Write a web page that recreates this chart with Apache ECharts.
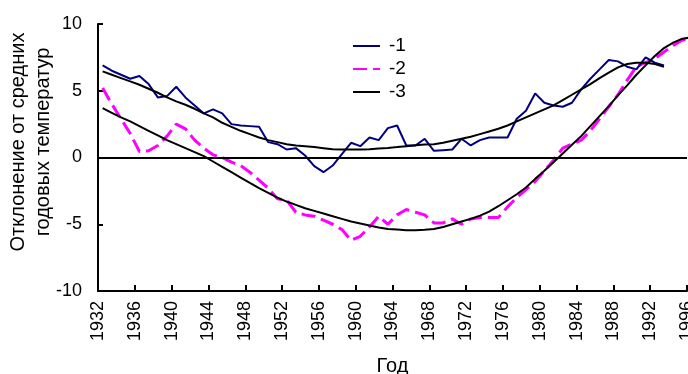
<!DOCTYPE html>
<html>
<head>
<meta charset="utf-8">
<title>Отклонение от средних годовых температур</title>
<script src="https://cdn.jsdelivr.net/npm/echarts@6/dist/echarts.min.js"></script>
<style>
    html, body { margin: 0; padding: 0; background: #fff; }
    #chart { width: 688px; height: 374px; }
</style>
</head>
<body>
<div id="chart"></div>
<script>
// годы наблюдений
var years = [1932, 1933, 1934, 1935, 1936, 1937, 1938, 1939, 1940, 1941,
    1942, 1943, 1944, 1945, 1946, 1947, 1948, 1949, 1950, 1951,
    1952, 1953, 1954, 1955, 1956, 1957, 1958, 1959, 1960, 1961,
    1962, 1963, 1964, 1965, 1966, 1967, 1968, 1969, 1970, 1971,
    1972, 1973, 1974, 1975, 1976, 1977, 1978, 1979, 1980, 1981,
    1982, 1983, 1984, 1985, 1986, 1987, 1988, 1989, 1990, 1991,
    1992, 1993, 1994, 1995, 1996];

// ряд 1 (1932-1993)
var series1 = [6.9, 6.5, 6.2, 5.9, 6.1, 5.5, 4.5, 4.6, 5.3, 4.5,
    3.9, 3.3, 3.6, 3.3, 2.5, 2.4, 2.35, 2.3, 1.15, 1.0,
    0.6, 0.7, 0.15, -0.65, -1.1, -0.6, 0.25, 1.1, 0.85, 1.5,
    1.3, 2.2, 2.4, 0.9, 0.9, 1.4, 0.5, 0.55, 0.6, 1.4,
    0.9, 1.3, 1.5, 1.5, 1.5, 2.9, 3.5, 4.8, 4.1, 3.9,
    3.8, 4.1, 5.1, 5.9, 6.6, 7.3, 7.2, 6.8, 6.6, 7.5,
    7.1, 6.9];

// ряд 2 (1932-1996)
var series2 = [5.2, 4.0, 2.9, 1.8, 0.45, 0.5, 0.9, 1.6, 2.5, 2.15,
    1.3, 0.7, 0.2, 0.0, -0.35, -0.6, -1.1, -1.7, -2.3, -3.1,
    -3.2, -4.1, -4.3, -4.4, -4.7, -5.0, -5.4, -6.2, -5.9, -5.2,
    -4.4, -5.0, -4.3, -3.9, -4.1, -4.3, -4.9, -4.9, -4.6, -5.0,
    -4.6, -4.5, -4.5, -4.5, -3.7, -3.0, -2.4, -1.8, -1.0, -0.2,
    0.7, 1.0, 1.3, 2.0, 2.9, 3.8, 4.7, 5.8, 6.8, 7.1,
    7.4, 7.9, 8.4, 8.8, 8.9];

// тренд ряда 1 (1932-1993)
var trend1 = [6.45, 6.2, 5.95, 5.7, 5.45, 5.15, 4.85, 4.5, 4.2, 3.95,
    3.65, 3.3, 3.0, 2.6, 2.3, 2.0, 1.75, 1.5, 1.3, 1.15,
    1.0, 0.9, 0.85, 0.78, 0.7, 0.62, 0.6, 0.6, 0.6, 0.62,
    0.67, 0.72, 0.78, 0.85, 0.92, 0.97, 1.0, 1.1, 1.25, 1.4,
    1.55, 1.75, 1.95, 2.15, 2.4, 2.7, 3.0, 3.3, 3.6, 3.9,
    4.3, 4.7, 5.1, 5.5, 5.95, 6.35, 6.75, 7.0, 7.1, 7.1,
    7.0, 6.8];

// тренд ряда 2 (1932-1996)
var trend2 = [3.7, 3.35, 3.0, 2.7, 2.35, 2.0, 1.65, 1.3, 1.0, 0.7,
    0.4, 0.1, -0.3, -0.7, -1.1, -1.5, -1.9, -2.3, -2.65, -3.0,
    -3.3, -3.55, -3.8, -4.0, -4.2, -4.4, -4.6, -4.8, -4.95, -5.1,
    -5.25, -5.35, -5.4, -5.45, -5.45, -5.42, -5.35, -5.2, -5.0, -4.8,
    -4.6, -4.35, -4.05, -3.65, -3.2, -2.75, -2.25, -1.6, -1.0, -0.35,
    0.3, 0.95, 1.6, 2.35, 3.1, 3.85, 4.65, 5.4, 6.2, 6.9,
    7.6, 8.2, 8.6, 8.9, 9.0];

var yTicks = [-10, -5, 0, 5, 10];
var legendNames = ['-1', '-2', '-3'];
var yTitle = 'Отклонение от средних\nгодовых температур';

var FONT = 'Liberation Sans, Arial, sans-serif';

/**
 * Собирает пары [год, значение] для линейного ряда
 * @param values значения ряда
 */
function toPairs(values) {
    var pairs = [];
    for (var i = 0; i < values.length; i++) {
        pairs.push([years[i], values[i]]);
    }
    return pairs;
}

/**
 * Описание одной линии графика
 */
function lineSeries(name, values, color, width, type, z) {
    return {
        name: name,
        type: 'line',
        xAxisIndex: 1,
        data: toPairs(values),
        showSymbol: false,
        symbol: 'none',
        smooth: false,
        z: z,
        lineStyle: { color: color, width: width, type: type },
        itemStyle: { color: color },
        emphasis: { disabled: true },
        animation: false
    };
}

/**
 * Рисует график отклонений температур
 */
function loadChart() {
    var myChart = echarts.init(document.getElementById('chart'), null, { renderer: 'canvas' });
    var s1 = lineSeries(legendNames[0], series1, '#000080', 2, 'solid', 3);
    s1.markLine = {
        silent: true,
        symbol: ['none', 'none'],
        label: { show: false },
        lineStyle: { color: '#000', width: 2, type: 'solid' },
        data: [{ yAxis: 0 }],
        animation: false
    };
    var option = {
        backgroundColor: '#fff',
        animation: false,
        textStyle: { fontFamily: FONT, color: '#000' },
        grid: { left: 98, right: 1, top: 24, bottom: 83, containLabel: false, outerBoundsMode: 'none' },
        // подпись оси Y (две строки, повернута)
        graphic: [{
            type: 'text',
            x: 31,
            y: 142,
            rotation: Math.PI / 2,
            silent: true,
            style: {
                text: yTitle,
                fontFamily: FONT,
                fontSize: 20,
                lineHeight: 25,
                fill: '#000',
                align: 'center',
                verticalAlign: 'middle'
            }
        }],
        legend: {
            data: legendNames,
            orient: 'vertical',
            left: 352,
            top: 36,
            padding: 0,
            itemWidth: 27,
            itemHeight: 14,
            itemGap: 3,
            itemStyle: { opacity: 0 },
            textStyle: { fontFamily: FONT, fontSize: 19, color: '#000', lineHeight: 20, padding: [0, 0, 0, 4] }
        },
        xAxis: [{
            type: 'value',
            min: 1932,
            max: 1996,
            interval: 4,
            name: 'Год',
            nameLocation: 'middle',
            nameGap: 65,
            nameTextStyle: { fontFamily: FONT, fontSize: 20, color: '#000' },
            axisLine: { onZero: false, lineStyle: { color: '#000', width: 2 } },
            axisTick: { inside: true, length: 6, lineStyle: { color: '#000', width: 2 } },
            axisLabel: {
                rotate: 90,
                margin: 10,
                fontFamily: FONT,
                fontSize: 18,
                color: '#000',
                formatter: function (v) { return String(v); }
            },
            splitLine: { show: false }
        }, {
            // годовые значения ставятся в середину года
            type: 'value',
            min: 1931.5,
            max: 1995.5,
            show: false
        }],
        yAxis: {
            type: 'value',
            min: yTicks[0],
            max: yTicks[yTicks.length - 1],
            interval: 5,
            axisLine: { show: true, lineStyle: { color: '#000', width: 2 } },
            axisTick: { show: true, inside: true, length: 5, lineStyle: { color: '#000', width: 2 } },
            axisLabel: { margin: 16, fontFamily: FONT, fontSize: 18, color: '#000' },
            splitLine: { show: false }
        },
        series: [
            s1,
            lineSeries(legendNames[1], series2, '#FF00FF', 3, [14, 6], 2),
            lineSeries(legendNames[2], trend1, '#000000', 2, 'solid', 4),
            lineSeries(legendNames[2], trend2, '#000000', 2, 'solid', 4)
        ]
    };
    myChart.setOption(option, true);
}

loadChart();
</script>
</body>
</html>
